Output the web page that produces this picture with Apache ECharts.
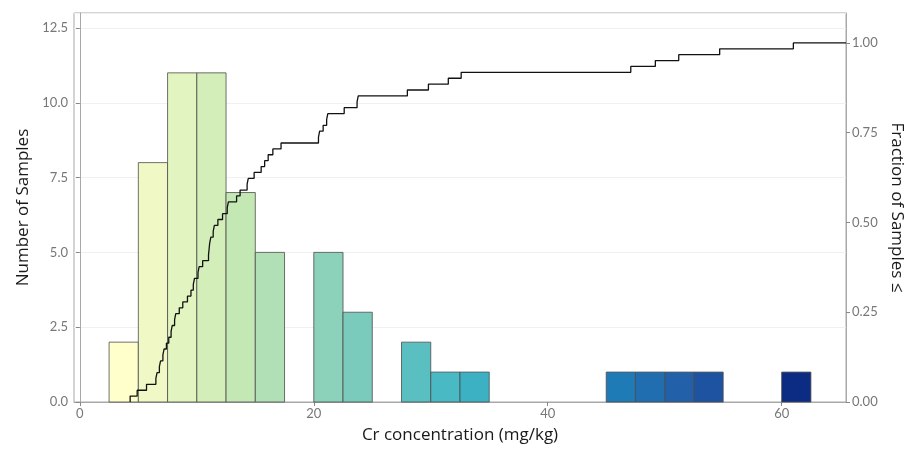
<!DOCTYPE html>
<html>
<head>
<meta charset="utf-8">
<script src="https://cdn.jsdelivr.net/npm/echarts@6/dist/echarts.min.js"></script>
<style>
  html, body { margin: 0; padding: 0; background: #fff; }
  #chart { width: 915px; height: 449px; }
</style>
</head>
<body>
<div id="chart"></div>
<script>
// histogram bins (width 2.5) and counts
var binStarts = [2.5, 5, 7.5, 10, 12.5, 15, 17.5, 20, 22.5, 25, 27.5, 30,
                 32.5, 35, 37.5, 40, 42.5, 45, 47.5, 50, 52.5, 55, 57.5, 60]
var binCounts = [2, 8, 11, 11, 7, 5, 0, 5, 3, 0, 2, 1,
                 1, 0, 0, 0, 0, 1, 1, 1, 1, 0, 0, 1]
var binWidth = 2.5

// sample concentrations (mg/kg)
var samples = [4.3, 4.9,
  5.7, 6.5, 6.6, 6.8, 6.9, 7.1, 7.2, 7.4,
  7.6, 7.8, 7.9, 8.1, 8.2, 8.5, 8.8, 9.2, 9.5, 9.7, 9.8,
  10.1, 10.2, 10.5, 11.0, 11.05, 11.1, 11.2, 11.4, 11.5, 11.8, 12.2,
  12.6, 12.7, 13.4, 13.7, 14.3, 14.4, 14.9,
  15.5, 15.8, 16.1, 16.5, 17.2,
  20.4, 20.5, 20.8, 21.1, 21.2,
  22.6, 23.7, 23.8,
  28.0, 29.8, 31.5, 32.6,
  47.1, 49.2, 51.2, 54.7, 61.0]

var xTicks = [0, 20, 40, 60]
var ylgnbu = ['#ffffcc', '#c7e9b4', '#7fcdbb', '#41b6c4', '#1d91c0', '#225ea8', '#0c2c84']

var xMin = -0.5, xMax = 65.5
var countMax = 13
var fracMax = countMax / 12

// bars: [start, end, count, centre]
var barData = []
binStarts.forEach(function (s, i) {
  if (binCounts[i] > 0) {
    barData.push([s, s + binWidth, binCounts[i], s + binWidth / 2])
  }
})

// empirical cdf
var sorted = samples.slice().sort(function (a, b) { return a - b })
var n = sorted.length
var ecdf = [[sorted[0], 0]]
sorted.forEach(function (v, i) {
  ecdf.push([v, (i + 1) / n])
})
ecdf.push([xMax, 1])

var font = 'Lato, "Open Sans", sans-serif'
var titleFont = '"Open Sans", Lato, sans-serif'
var chart = echarts.init(document.getElementById('chart'))

chart.setOption({
  animation: false,
  textStyle: { fontFamily: font },
  grid: {
    left: 74, right: 69, top: 13, bottom: 46,
    show: true,
    borderColor: '#a8a8a8',
    borderWidth: 1,
    backgroundColor: '#fff'
  },
  visualMap: {
    show: false,
    type: 'continuous',
    seriesIndex: 0,
    dimension: 3,
    min: binStarts[0] + binWidth / 2,
    max: 61.25,
    inRange: { color: ylgnbu }
  },
  xAxis: {
    type: 'value',
    min: xMin,
    max: xMax,
    name: 'Cr concentration (mg/kg)',
    nameLocation: 'middle',
    nameGap: 25,
    nameTextStyle: { fontSize: 17, color: '#1a1a1a', fontFamily: titleFont },
    axisLine: { show: true, lineStyle: { color: '#a8a8a8' } },
    axisTick: { show: true, length: 4, customValues: xTicks, lineStyle: { color: '#888' } },
    axisLabel: { customValues: xTicks, color: '#777', fontSize: 13, margin: 5 },
    splitLine: { show: false }
  },
  yAxis: [{
    type: 'value',
    min: 0,
    max: countMax,
    interval: 2.5,
    name: 'Number of Samples',
    nameLocation: 'middle',
    nameGap: 42,
    nameTextStyle: { fontSize: 17, color: '#1a1a1a', fontFamily: titleFont },
    axisLine: { show: true, lineStyle: { color: '#a8a8a8' } },
    axisTick: { show: true, length: 4, lineStyle: { color: '#888' } },
    axisLabel: {
      color: '#777', fontSize: 13, margin: 6, showMaxLabel: false,
      formatter: function (v) { return v.toFixed(1) }
    },
    splitLine: { show: true, lineStyle: { color: '#f0f0f0', width: 1 } }
  }, {
    type: 'value',
    position: 'right',
    min: 0,
    max: fracMax,
    interval: 0.25,
    name: 'Fraction of Samples ≤',
    nameLocation: 'middle',
    nameRotate: -90,
    nameGap: 35,
    nameTextStyle: { fontSize: 17, color: '#1a1a1a', fontFamily: titleFont },
    axisLine: { show: true, lineStyle: { color: '#a8a8a8' } },
    axisTick: { show: true, length: 4, lineStyle: { color: '#888' } },
    axisLabel: {
      color: '#777', fontSize: 13, margin: 6, showMaxLabel: false,
      formatter: function (v) { return v.toFixed(2) }
    },
    splitLine: { show: false }
  }],
  series: [{
    type: 'custom',
    yAxisIndex: 0,
    encode: { x: [0, 1], y: 2 },
    data: barData,
    renderItem: function (params, api) {
      var p0 = api.coord([api.value(0), api.value(2)])
      var p1 = api.coord([api.value(1), 0])
      return {
        type: 'rect',
        shape: { x: p0[0], y: p0[1], width: p1[0] - p0[0], height: p1[1] - p0[1] },
        style: { fill: api.visual('color'), stroke: '#4d4d4d', lineWidth: 0.8 }
      }
    },
    z: 2
  }, {
    type: 'line',
    yAxisIndex: 1,
    step: 'end',
    data: ecdf,
    symbol: 'none',
    lineStyle: { color: '#111', width: 1.3 },
    z: 3
  }]
})
</script>
</body>
</html>
